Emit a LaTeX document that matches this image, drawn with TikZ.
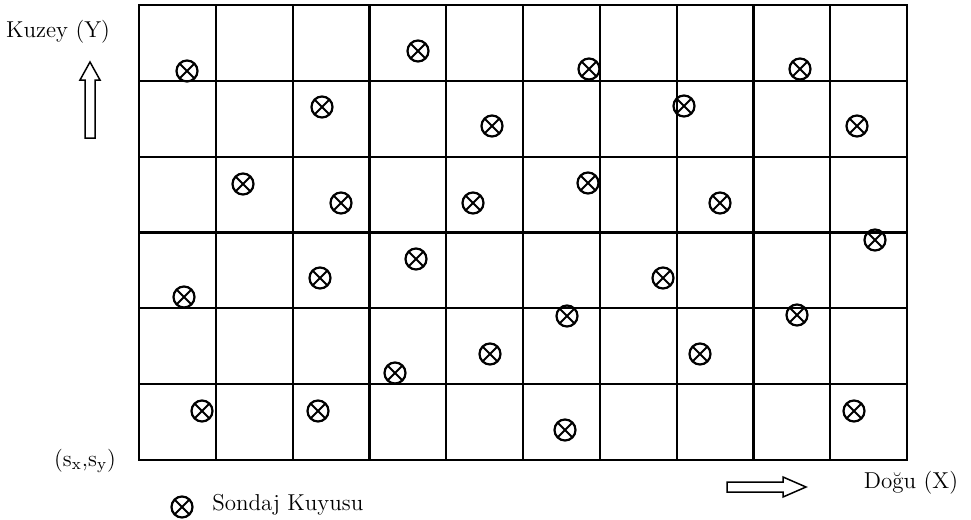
\documentclass[tikz,border=0pt]{standalone}
\usepackage{tikz}

\tikzset{
  izgara/.style={line width=1.1pt, line cap=rect},
  kuyu/.style={circle, draw, line width=1.1pt, minimum size=10.5pt, inner sep=0pt,
    path picture={\draw[line width=0.9pt]
      (path picture bounding box.north west) -- (path picture bounding box.south east)
      (path picture bounding box.north east) -- (path picture bounding box.south west);}},
  yon/.style={draw, line width=0.75pt, line join=miter},
  etiket/.style={font=\fontsize{11.5}{13}\selectfont, inner sep=0pt}
}

\begin{document}
\begin{tikzpicture}[x=0.5pt, y=-0.5pt]
        \useasboundingbox (0,0) rectangle (971,520);
        % izgara
        \foreach \i in {1,...,9} {
            \draw[izgara] ({139+76.8*\i},5) -- ({139+76.8*\i},460);
        }
        \foreach \j in {1,...,5} {
            \draw[izgara] (139,{5+75.83*\j}) -- (907,{5+75.83*\j});
        }
        \draw[izgara] (139,5) rectangle (907,460);
        % sondaj kuyulari
        \foreach \x/\y [count=\n] in {187/71, 418/51, 589/69, 800/69,
                                     322/107, 492/126, 684/106, 857/126,
                                     243/184, 341/203, 473/203, 588/183, 720/203,
                                     875/240, 416/259, 320/278, 663/278, 184/297,
                                     567/316, 797/315, 490/354, 700/354, 395/373,
                                     202/411, 318/411, 565/430, 854/411} {
            \node[kuyu] (k\n) at (\x,\y) {};
        }
        % yonler
        \node[etiket] (kuzey) at (58,32) {Kuzey (Y)};
        \draw[yon] (85,138) -- (85,80) -- (80,80) -- (90,62) -- (100,80) -- (95,80) -- (95,138) -- cycle;
        \node[etiket] (dogu) at (911,483) {Doğu (X)};
        \draw[yon] (727,482) -- (783,482) -- (783,477) -- (806,487) -- (783,497) -- (783,492) -- (727,492) -- cycle;
        \node[etiket] (orijin) at (85,461) {(s\textsubscript{x},s\textsubscript{y})};
        % lejant
        \node[kuyu] (lejant) at (182,507) {};
        \node[etiket, anchor=west] (lejanttext) at (212,505) {Sondaj Kuyusu};
    \end{tikzpicture}
\end{document}
